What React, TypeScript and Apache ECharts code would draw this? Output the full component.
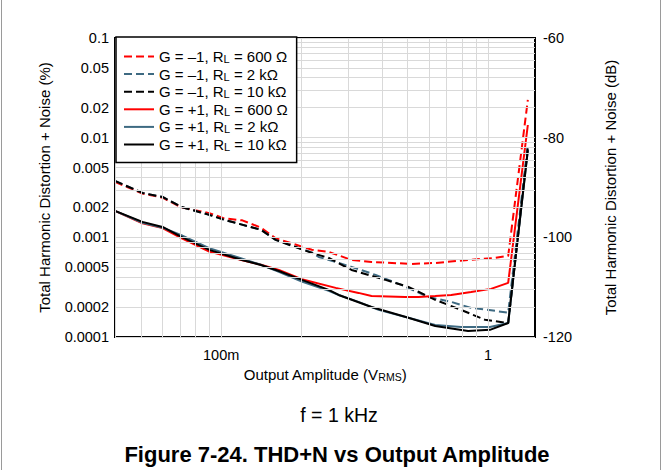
import React, { useEffect, useRef } from "react";
import * as echarts from "echarts";

// ---------- data ----------
const gains = ["–1", "–1", "–1", "+1", "+1", "+1"];
const loads = ["600 Ω", "2 kΩ", "10 kΩ", "600 Ω", "2 kΩ", "10 kΩ"];

const redDashX = [0.04, 0.0507, 0.0603, 0.0709, 0.0902, 0.1026, 0.12, 0.141, 0.16, 0.2186, 0.253, 0.308, 0.366, 0.516, 0.634, 0.842, 1.062, 1.19, 1.41];
const redDashY = [0.0036, 0.00275, 0.0025, 0.002, 0.00175, 0.00155, 0.00148, 0.00125, 0.00098, 0.00075, 0.000714, 0.000593, 0.000566, 0.000541, 0.000553, 0.000593, 0.000621, 0.000651, 0.0239];

const blueDashX = [0.04, 0.0507, 0.0603, 0.0709, 0.0902, 0.1026, 0.141, 0.16, 0.2186, 0.232, 0.308, 0.379, 0.4735, 0.597, 0.728, 0.864, 1.062, 1.19, 1.41];
const blueDashY = [0.00368, 0.00279, 0.00254, 0.00202, 0.00168, 0.0015, 0.00119, 0.000942, 0.000705, 0.000636, 0.000505, 0.00042, 0.000333, 0.000252, 0.000225, 0.000196, 0.000183, 0.000175, 0.0085];

const blackDashX = [0.04, 0.0507, 0.0603, 0.0709, 0.0902, 0.1026, 0.141, 0.16, 0.2186, 0.253, 0.308, 0.413, 0.503, 0.634, 0.793, 0.974, 1.19, 1.41];
const blackDashY = [0.00368, 0.00279, 0.00254, 0.00202, 0.00168, 0.0015, 0.00119, 0.000942, 0.000698, 0.000621, 0.000471, 0.000374, 0.000318, 0.000236, 0.000187, 0.000149, 0.000138, 0.008];

const redSolidX = [0.04, 0.0507, 0.0603, 0.0709, 0.0902, 0.12, 0.141, 0.1645, 0.2005, 0.2686, 0.327, 0.366, 0.49, 0.548, 0.634, 0.728, 0.864, 1.026, 1.19, 1.41];
const redSolidY = [0.00184, 0.00138, 0.00124, 0.00098, 0.00072, 0.00059, 0.00053, 0.00047, 0.00038, 0.000311, 0.000277, 0.000258, 0.000252, 0.000252, 0.000258, 0.000264, 0.000283, 0.000304, 0.000349, 0.0134];

const blueSolidX = [0.04, 0.0507, 0.0603, 0.0709, 0.0902, 0.12, 0.141, 0.1645, 0.2005, 0.253, 0.2756, 0.327, 0.389, 0.503, 0.634, 0.793, 1.017, 1.19, 1.41];
const blueSolidY = [0.00184, 0.0014, 0.00125, 0.00105, 0.00078, 0.00061, 0.00053, 0.00045, 0.00036, 0.00029, 0.000264, 0.000225, 0.000187, 0.000156, 0.000132, 0.000126, 0.000126, 0.000138, 0.0075];

const blackSolidX = [0.04, 0.0507, 0.0603, 0.0709, 0.0902, 0.1197, 0.141, 0.1645, 0.2005, 0.253, 0.2756, 0.366, 0.503, 0.634, 0.842, 1.017, 1.19, 1.41];
const blackSolidY = [0.00184, 0.00143, 0.00127, 0.00101, 0.000748, 0.000593, 0.000528, 0.00046, 0.000374, 0.000297, 0.000264, 0.0002, 0.000156, 0.000129, 0.000115, 0.000118, 0.000138, 0.0075];

const seriesX = [redDashX, blueDashX, blackDashX, redSolidX, blueSolidX, blackSolidX];
const seriesY = [redDashY, blueDashY, blackDashY, redSolidY, blueSolidY, blackSolidY];
const colors = ["#ff0000", "#3e6a82", "#000000", "#ff0000", "#3e6a82", "#000000"];
const dashed = [true, true, true, false, false, false];

// axis ticks / gridlines
const xGrid = [0.04, 0.05, 0.06, 0.07, 0.08, 0.09, 0.1, 0.2, 0.3, 0.4, 0.5, 0.6, 0.7, 0.8, 0.9, 1];
const yGrid = [
  0.0001, 0.0002, 0.0003, 0.0004, 0.0005, 0.0006, 0.0007, 0.0008, 0.0009,
  0.001, 0.002, 0.003, 0.004, 0.005, 0.006, 0.007, 0.008, 0.009,
  0.01, 0.02, 0.03, 0.04, 0.05, 0.06, 0.07, 0.08, 0.09, 0.1,
];
const yTickValues = [0.1, 0.05, 0.02, 0.01, 0.005, 0.002, 0.001, 0.0005, 0.0002, 0.0001];
const yTickLabels = ["0.1", "0.05", "0.02", "0.01", "0.005", "0.002", "0.001", "0.0005", "0.0002", "0.0001"];
const xTickValues = [0.1, 1];
const xTickLabels = ["100m", "1"];
const dbTicks = [-120, -100, -80, -60];

const FONT = "'Liberation Sans', Arial, sans-serif";
const TICK = 14.5;
const NAME = 15;

function seriesName(i: number) {
  return `G = ${gains[i]}, RL = ${loads[i]}`;
}

export default function App() {
  const ref = useRef<HTMLDivElement>(null);
  useEffect(() => {
    if (!ref.current) return;
    const chart = echarts.init(ref.current, undefined, { renderer: "svg" });

    const gridMarks: any[] = [];
    xGrid.forEach((v) => gridMarks.push({ xAxis: v }));
    yGrid.forEach((v) => {
      const k = yTickValues.findIndex((t) => Math.abs(t - v) < v * 1e-6);
      if (k >= 0) {
        gridMarks.push({
          yAxis: v,
          label: {
            show: true,
            position: "start",
            formatter: yTickLabels[k],
            distance: 6,
            color: "#000",
            fontSize: TICK,
            fontFamily: FONT,
          },
        });
      } else {
        gridMarks.push({ yAxis: v });
      }
    });

    const dataSeries = seriesX.map((xs, i) => ({
      name: seriesName(i),
      type: "line",
      symbol: "none",
      z: 3,
      data: xs.map((x, j) => [x, seriesY[i][j]]),
      lineStyle: {
        color: colors[i],
        width: 2,
        type: dashed[i] ? [8, 4] : "solid",
      },
      itemStyle: { color: colors[i] },
    }));

    const option: any = {
      animation: false,
      backgroundColor: "#fff",
      textStyle: { fontFamily: FONT },
      grid: {
        left: 115,
        top: 38,
        right: 128,
        bottom: 133,
        show: true,
        borderColor: "#000",
        borderWidth: 2,
        backgroundColor: "transparent",
      },
      legend: {
        orient: "vertical",
        left: 116,
        top: 37,
        data: seriesX.map((_, i) => seriesName(i)),
        backgroundColor: "#fff",
        borderColor: "#000",
        borderWidth: 1.5,
        borderRadius: 0,
        padding: [12, 9, 10, 7],
        itemWidth: 30,
        itemHeight: 14,
        itemGap: 2.1,
        itemStyle: { color: "transparent", borderWidth: 0, opacity: 0 },
        formatter: (name: string) => {
          const i = seriesX.findIndex((_, k) => seriesName(k) === name);
          return `{a|G = ${gains[i]}, R}{s|L}{a| = ${loads[i]}}`;
        },
        textStyle: {
          color: "#000",
          fontFamily: FONT,
          fontSize: 15,
          rich: {
            a: { fontSize: 15, lineHeight: 16, color: "#000", fontFamily: FONT },
            s: { fontSize: 11, lineHeight: 10, color: "#000", fontFamily: FONT, verticalAlign: "bottom" },
          },
        },
        z: 10,
      },
      xAxis: {
        type: "log",
        logBase: 10,
        min: 0.04,
        max: 1.5,
        axisLine: { show: false },
        axisTick: { show: false },
        splitLine: { show: false },
        axisLabel: {
          color: "#000",
          fontSize: TICK,
          fontFamily: FONT,
          margin: 10,
          showMinLabel: false,
          showMaxLabel: false,
          formatter: (v: number) => {
            const k = xTickValues.findIndex((t) => Math.abs(t - v) < t * 1e-6);
            return k >= 0 ? xTickLabels[k] : "";
          },
        },
        name: "{a|Output Amplitude (V}{s|RMS}{a|)}",
        nameLocation: "middle",
        nameGap: 28,
        nameTextStyle: {
          rich: {
            a: { fontSize: NAME, lineHeight: 17, color: "#000", fontFamily: FONT },
            s: { fontSize: 10.5, lineHeight: 10, color: "#000", fontFamily: FONT, verticalAlign: "bottom" },
          },
        },
      },
      yAxis: [
        {
          type: "log",
          logBase: 10,
          min: 0.0001,
          max: 0.1,
          position: "left",
          axisLine: { show: false },
          axisTick: { show: false },
          splitLine: { show: false },
          axisLabel: { show: false },
          name: "Total Harmonic Distortion + Noise (%)",
          nameLocation: "middle",
          nameGap: 63,
          nameTextStyle: { color: "#000", fontSize: NAME, fontFamily: FONT },
        },
        {
          type: "value",
          min: dbTicks[0],
          max: dbTicks[dbTicks.length - 1],
          interval: 20,
          position: "right",
          axisLine: { show: false },
          axisTick: { show: false },
          splitLine: { show: false },
          axisLabel: {
            color: "#000",
            fontSize: TICK,
            fontFamily: FONT,
            margin: 8,
            formatter: (v: number) => String(v),
          },
          name: "Total Harmonic Distortion + Noise (dB)",
          nameLocation: "middle",
          nameGap: 68,
          nameRotate: 90,
          nameTextStyle: { color: "#000", fontSize: NAME, fontFamily: FONT },
        },
      ],
      title: [
        {
          text: "f = 1 kHz",
          left: 334,
          top: 400,
          textAlign: "center",
          textStyle: { fontSize: 19.5, fontWeight: "normal", color: "#000", fontFamily: FONT },
        },
        {
          text: "Figure 7-24. THD+N vs Output Amplitude",
          left: 332,
          top: 438,
          textAlign: "center",
          textStyle: { fontSize: 22, fontWeight: "bold", color: "#000", fontFamily: FONT },
        },
      ],
      graphic: [
        {
          type: "rect",
          shape: { x: 1.5, y: -2, width: 659, height: 480 },
          style: { fill: "none", stroke: "#9a9a9a", lineWidth: 1 },
          silent: true,
        },
      ],
      series: [
        {
          name: "grid",
          type: "line",
          symbol: "none",
          z: 1,
          data: [[0.1, 0.001]],
          lineStyle: { opacity: 0 },
          markLine: {
            silent: true,
            precision: 10,
            symbol: ["none", "none"],
            label: { show: false },
            lineStyle: { color: "#d9d9d9", width: 1, type: "solid" },
            emphasis: { disabled: true },
            data: gridMarks,
          },
        },
        ...dataSeries,
      ],
    };
    chart.setOption(option);
    return () => chart.dispose();
  }, []);
  return (
    <div
      ref={ref}
      style={{ position: "fixed", left: 0, top: 0, width: 663, height: 470 }}
    />
  );
}
